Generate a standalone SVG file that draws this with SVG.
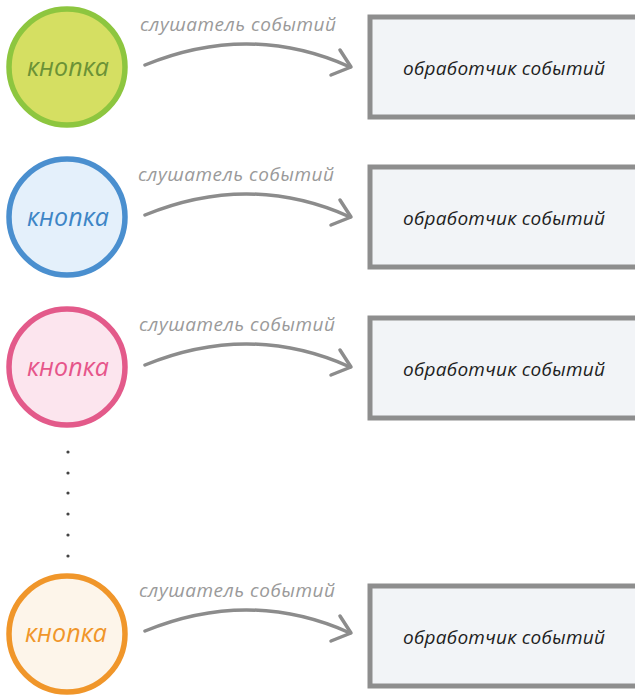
<svg xmlns="http://www.w3.org/2000/svg" width="635" height="695" viewBox="0 0 635 695">
  <style>
    .btn { stroke-width: 5.5; }
    .btn-label { font-family: "Open Sans", "Noto Sans", sans-serif; font-style: italic; font-size: 25px; text-anchor: middle; }
    .handler { fill: #f2f4f7; stroke: #8e8e8e; stroke-width: 5; }
    .handler-label { font-family: "Open Sans", "Noto Sans", sans-serif; font-style: italic; font-size: 19px; fill: #1e1e1e; text-anchor: middle; }
    .edge { fill: none; stroke: #8c8c8c; stroke-width: 3.5; stroke-linecap: round; stroke-linejoin: round; }
    .edge-label { font-family: "Open Sans", "Noto Sans", sans-serif; font-style: italic; font-size: 19px; fill: #9a9a9a; }
    .dot { fill: #444; }
  </style>
  <defs>
    <g id="listener-arrow">
      <path class="edge" d="M145,65 Q250,22 350,67"/>
      <path class="edge" d="M340,50 L351,67 L331,75"/>
    </g>
  </defs>

  <rect width="635" height="695" fill="#ffffff"/>

  <!-- buttons -->
  <g id="button-1">
    <circle class="btn" cx="67" cy="67" r="58" fill="#d5df62" stroke="#8dc63f"/>
    <text class="btn-label" x="68" y="76" fill="#6b9236" textLength="82">кнопка</text>
  </g>
  <g id="button-2">
    <circle class="btn" cx="67" cy="217" r="58" fill="#e4f0fb" stroke="#4a8fcf"/>
    <text class="btn-label" x="68" y="226" fill="#3d85c6" textLength="82">кнопка</text>
  </g>
  <g id="button-3">
    <circle class="btn" cx="67" cy="367" r="58" fill="#fce5ee" stroke="#e35a8a"/>
    <text class="btn-label" x="68" y="376" fill="#e6558a" textLength="82">кнопка</text>
  </g>
  <g id="button-n">
    <circle class="btn" cx="67" cy="634" r="58" fill="#fdf5ea" stroke="#f0962a"/>
    <text class="btn-label" x="66" y="642" fill="#f0962a" textLength="82">кнопка</text>
  </g>

  <!-- ellipsis between the third and last rows -->
  <g id="ellipsis">
    <circle class="dot" cx="68" cy="452" r="1.6"/>
    <circle class="dot" cx="68" cy="473" r="1.6"/>
    <circle class="dot" cx="68" cy="493" r="1.6"/>
    <circle class="dot" cx="68" cy="514" r="1.6"/>
    <circle class="dot" cx="68" cy="535" r="1.6"/>
    <circle class="dot" cx="68" cy="556" r="1.6"/>
  </g>

  <!-- handlers -->
  <g id="handler-1">
    <rect class="handler" x="370" y="17" width="280" height="100"/>
    <text class="handler-label" x="504" y="75" textLength="202">обработчик событий</text>
  </g>
  <g id="handler-2">
    <rect class="handler" x="370" y="167" width="280" height="100"/>
    <text class="handler-label" x="504" y="225" textLength="202">обработчик событий</text>
  </g>
  <g id="handler-3">
    <rect class="handler" x="370" y="318" width="280" height="100"/>
    <text class="handler-label" x="504" y="376" textLength="202">обработчик событий</text>
  </g>
  <g id="handler-n">
    <rect class="handler" x="370" y="586" width="280" height="100"/>
    <text class="handler-label" x="504" y="644" textLength="202">обработчик событий</text>
  </g>

  <!-- connectors: event listeners -->
  <g id="connectors">
    <use href="#listener-arrow"/>
    <text class="edge-label" x="140" y="31" textLength="196">слушатель событий</text>
    <use href="#listener-arrow" transform="translate(0,150)"/>
    <text class="edge-label" x="138" y="181" textLength="196">слушатель событий</text>
    <use href="#listener-arrow" transform="translate(0,300)"/>
    <text class="edge-label" x="139" y="331" textLength="196">слушатель событий</text>
    <use href="#listener-arrow" transform="translate(0,566)"/>
    <text class="edge-label" x="139" y="597" textLength="196">слушатель событий</text>
  </g>
</svg>
